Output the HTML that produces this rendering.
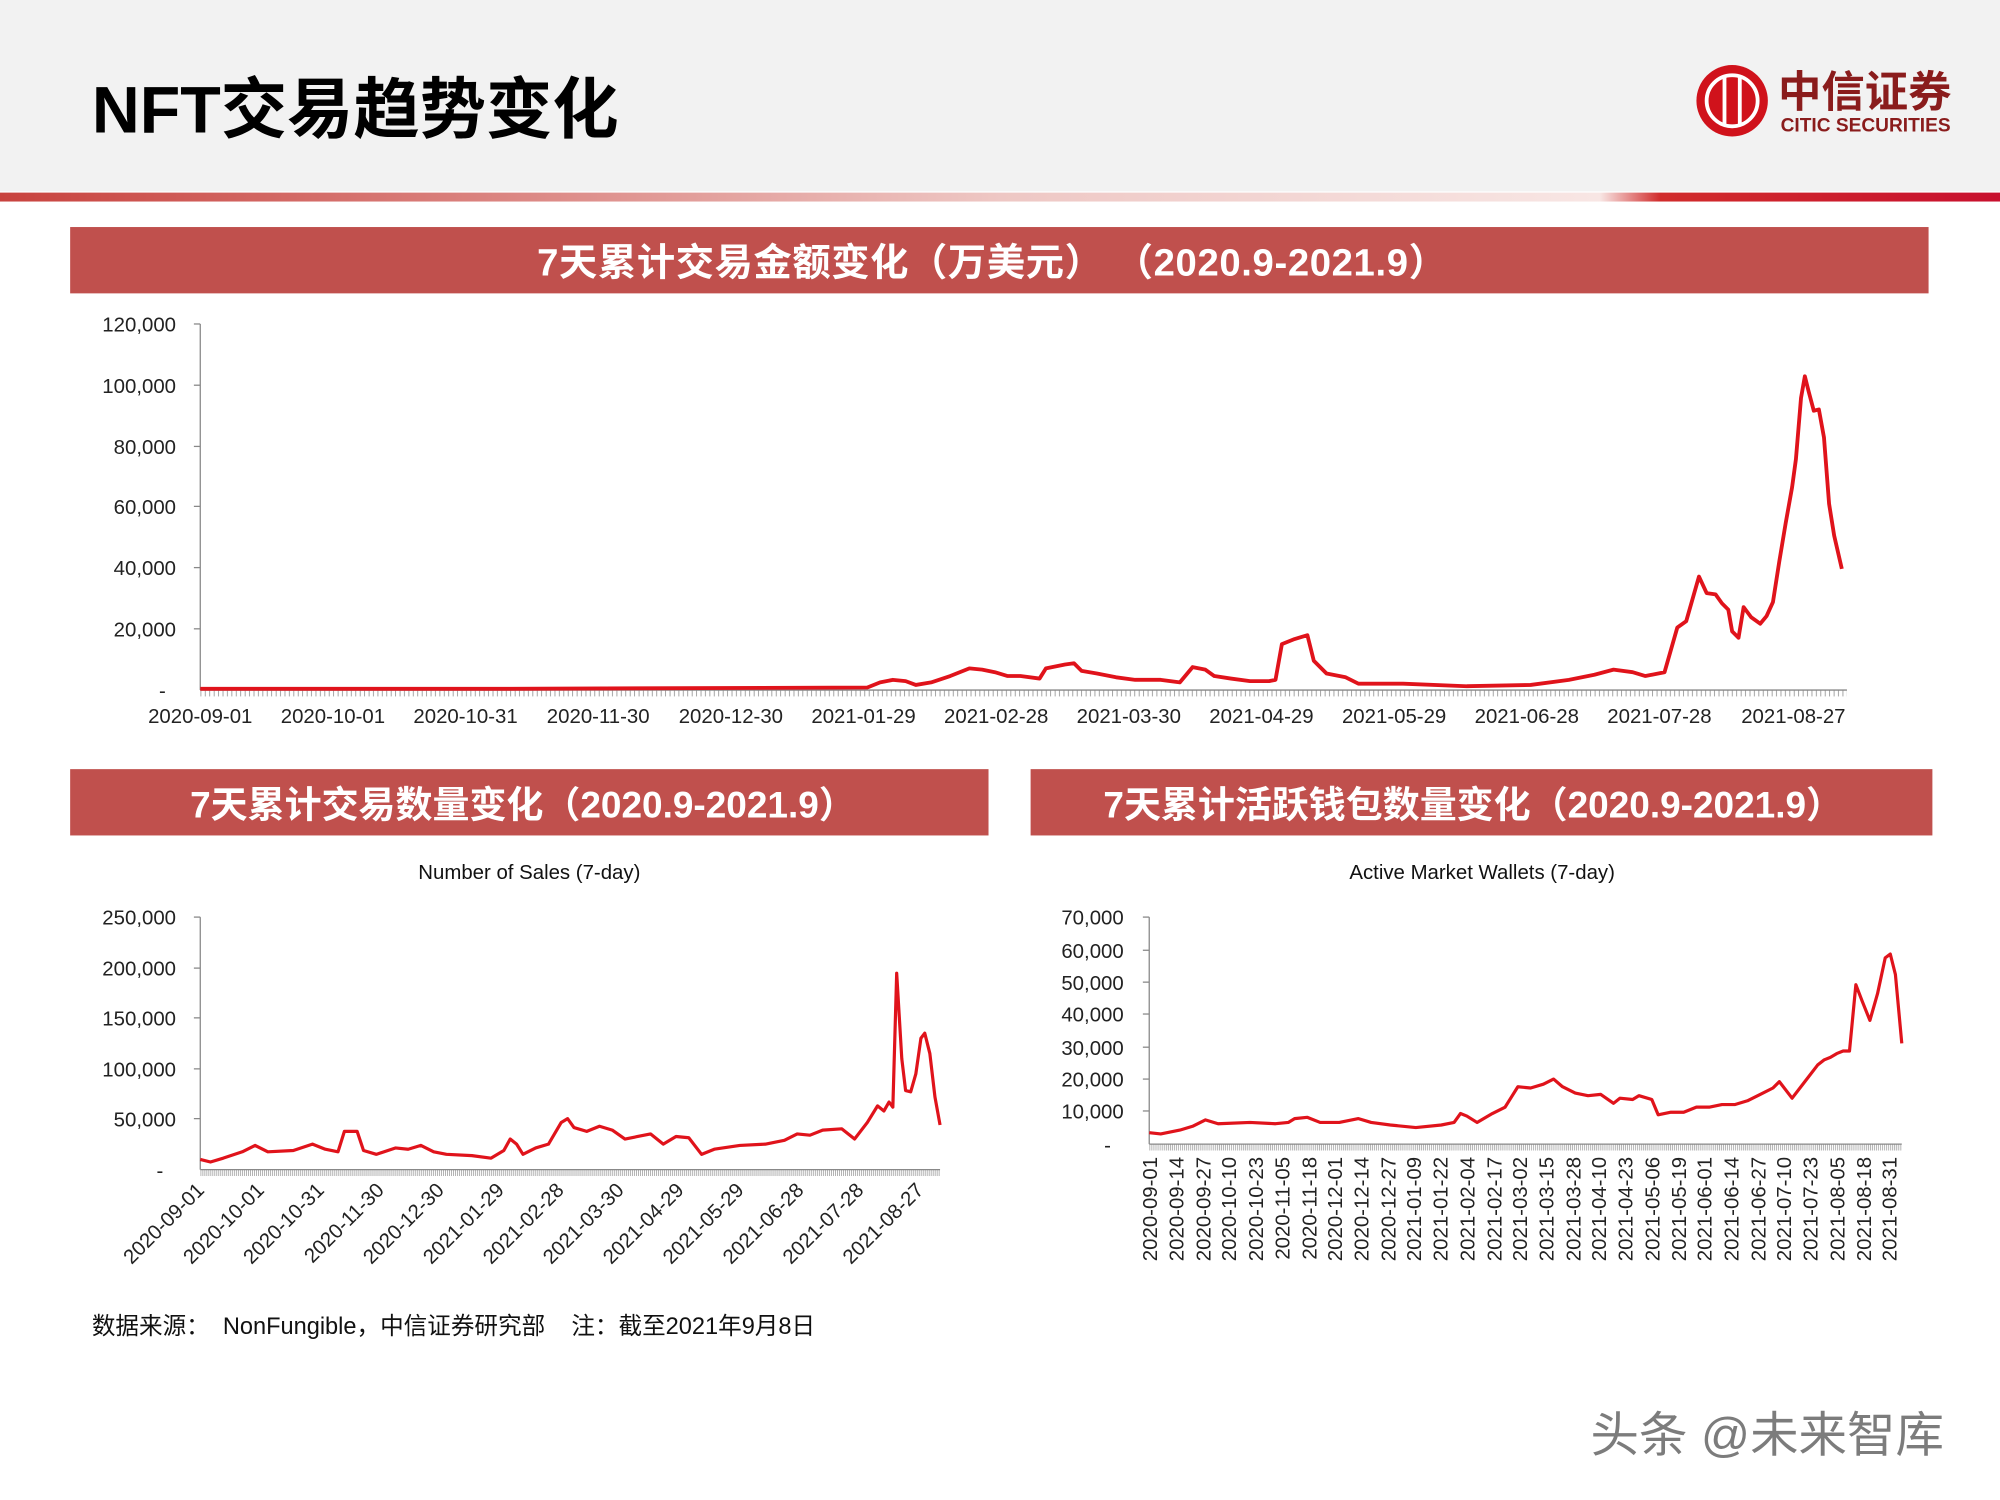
<!DOCTYPE html>
<html><head><meta charset="utf-8"><style>html,body{margin:0;padding:0;background:#fff}svg{display:block}text{font-family:"Liberation Sans","Noto Sans CJK SC",sans-serif}</style></head><body>
<svg width="2000" height="1500" viewBox="0 0 1568 1176" xmlns="http://www.w3.org/2000/svg">
<defs>
<linearGradient id="g" x1="0" x2="1"><stop offset="0" stop-color="#c8423e"/><stop offset="0.5" stop-color="#eec7c4"/><stop offset="0.8" stop-color="#f8e6e4"/><stop offset="0.83" stop-color="#d12c2c"/><stop offset="1" stop-color="#c8102e"/></linearGradient>
<pattern id="tk1" width="3.47" height="6" patternUnits="userSpaceOnUse" x="157"><line x1="0.5" y1="0" x2="0.5" y2="6" stroke="#888" stroke-width="0.6"/></pattern>
<pattern id="tk2" width="1.56" height="6" patternUnits="userSpaceOnUse" x="157"><line x1="0.5" y1="0" x2="0.5" y2="6" stroke="#888" stroke-width="0.5"/></pattern>
<pattern id="tk3" width="1.6" height="6" patternUnits="userSpaceOnUse" x="901"><line x1="0.5" y1="0" x2="0.5" y2="6" stroke="#888" stroke-width="0.5"/></pattern>
</defs>
<rect width="1568" height="150" fill="#f2f2f2"/>
<text x="72" y="104" font-size="52" font-weight="bold" fill="#000">NFT交易趋势变化</text>
<rect x="0" y="151" width="1568" height="7" fill="url(#g)"/>
<circle cx="1358" cy="79" r="28" fill="#d0121b"/>
<circle cx="1358" cy="79" r="20" fill="none" stroke="#fff" stroke-width="3"/>
<line x1="1352" y1="60" x2="1352" y2="98" stroke="#fff" stroke-width="3"/><line x1="1364" y1="60" x2="1364" y2="98" stroke="#fff" stroke-width="3"/>
<text x="1394" y="84" font-size="34" font-weight="bold" fill="#8a1c1c">中信证券</text>
<text x="1396" y="103" font-size="15" font-weight="bold" fill="#8a1c1c">CITIC SECURITIES</text>

<rect x="55" y="178" width="1457" height="52" fill="#c0504d"/>
<text x="778" y="216" font-size="30" font-weight="bold" fill="#fff" text-anchor="middle" letter-spacing="0.5">7天累计交易金额变化（万美元） （2020.9-2021.9）</text>
<g font-size="16" fill="#222" text-anchor="end">
<text x="138" y="260">120,000</text><text x="138" y="308">100,000</text><text x="138" y="356">80,000</text><text x="138" y="403">60,000</text><text x="138" y="451">40,000</text><text x="138" y="499">20,000</text><text x="130" y="547">-</text></g>
<g stroke="#888" stroke-width="1"><line x1="157" y1="254" x2="157" y2="541"/><line x1="152" y1="254" x2="157" y2="254"/><line x1="152" y1="302" x2="157" y2="302"/><line x1="152" y1="350" x2="157" y2="350"/><line x1="152" y1="397" x2="157" y2="397"/><line x1="152" y1="445" x2="157" y2="445"/><line x1="152" y1="493" x2="157" y2="493"/><line x1="157" y1="541" x2="1448" y2="541"/></g>
<rect x="157" y="541" width="1291" height="5" fill="url(#tk1)"/>
<g font-size="16" fill="#222" text-anchor="middle">
<text x="157" y="567">2020-09-01</text><text x="261" y="567">2020-10-01</text><text x="365" y="567">2020-10-31</text><text x="469" y="567">2020-11-30</text><text x="573" y="567">2020-12-30</text><text x="677" y="567">2021-01-29</text><text x="781" y="567">2021-02-28</text><text x="885" y="567">2021-03-30</text><text x="989" y="567">2021-04-29</text><text x="1093" y="567">2021-05-29</text><text x="1197" y="567">2021-06-28</text><text x="1301" y="567">2021-07-28</text><text x="1406" y="567">2021-08-27</text></g>
<polyline fill="none" stroke="#e0131b" stroke-width="3" stroke-linejoin="round" points="157,540 400,540 680,539 690,535 700,533 710,534 718,537 730,535 745,530 760,524 770,525 780,527 790,530 800,530 815,532 820,524 835,521 842,520 848,526 860,528 875,531 890,533 910,533 925,535 935,523 945,525 952,530 965,532 980,534 995,534 1000,533 1005,505 1015,501 1025,498 1030,518 1040,528 1055,531 1065,536 1100,536 1150,538 1200,537 1230,533 1250,529 1265,525 1280,527 1290,530 1305,527 1315,492 1322,487 1332,452 1338,465 1345,466 1350,473 1355,478 1358,495 1363,500 1367,476 1373,484 1380,489 1385,483 1390,472 1395,440 1400,410 1405,382 1408,360 1412,312 1415,295 1418,307 1422,322 1426,321 1430,343 1434,395 1438,420 1444,446"/>

<rect x="55" y="603" width="720" height="52" fill="#c0504d"/>
<text x="410" y="641" font-size="29" font-weight="bold" fill="#fff" text-anchor="middle">7天累计交易数量变化（2020.9-2021.9）</text>
<text x="415" y="689" font-size="16" fill="#111" text-anchor="middle">Number of Sales (7-day)</text>
<g font-size="16" fill="#222" text-anchor="end">
<text x="138" y="725">250,000</text><text x="138" y="765">200,000</text><text x="138" y="804">150,000</text><text x="138" y="844">100,000</text><text x="138" y="883">50,000</text><text x="128" y="923">-</text></g>
<g stroke="#888"><line x1="157" y1="719" x2="157" y2="917"/><line x1="157" y1="917" x2="737" y2="917"/>
<line x1="152" y1="719" x2="157" y2="719"/><line x1="152" y1="759" x2="157" y2="759"/><line x1="152" y1="798" x2="157" y2="798"/><line x1="152" y1="838" x2="157" y2="838"/><line x1="152" y1="877" x2="157" y2="877"/></g>
<rect x="157" y="917" width="580" height="5" fill="url(#tk2)"/>
<g font-size="16" fill="#222" text-anchor="end">
<text transform="translate(161,934) rotate(-45)">2020-09-01</text><text transform="translate(208,934) rotate(-45)">2020-10-01</text><text transform="translate(255,934) rotate(-45)">2020-10-31</text><text transform="translate(302,934) rotate(-45)">2020-11-30</text><text transform="translate(349,934) rotate(-45)">2020-12-30</text><text transform="translate(396,934) rotate(-45)">2021-01-29</text><text transform="translate(443,934) rotate(-45)">2021-02-28</text><text transform="translate(490,934) rotate(-45)">2021-03-30</text><text transform="translate(537,934) rotate(-45)">2021-04-29</text><text transform="translate(584,934) rotate(-45)">2021-05-29</text><text transform="translate(631,934) rotate(-45)">2021-06-28</text><text transform="translate(678,934) rotate(-45)">2021-07-28</text><text transform="translate(725,934) rotate(-45)">2021-08-27</text></g>
<polyline fill="none" stroke="#e0131b" stroke-width="2.5" stroke-linejoin="round" points="157,909 165,911 175,908 190,903 200,898 210,903 230,902 245,897 255,901 265,903 270,887 280,887 285,902 295,905 310,900 320,901 330,898 340,903 350,905 370,906 385,908 395,902 400,893 405,897 410,905 420,900 430,897 440,880 445,877 450,884 460,887 470,883 480,886 490,893 500,891 510,889 520,897 530,891 540,892 550,905 560,901 580,898 600,897 615,894 625,889 635,890 645,886 660,885 670,893 680,880 688,867 693,871 697,864 700,868 703,763 707,830 710,855 714,856 718,842 722,814 725,810 729,826 733,860 737,882"/>

<rect x="808" y="603" width="707" height="52" fill="#c0504d"/>
<text x="1155" y="641" font-size="29" font-weight="bold" fill="#fff" text-anchor="middle">7天累计活跃钱包数量变化（2020.9-2021.9）</text>
<text x="1162" y="689" font-size="16" fill="#111" text-anchor="middle">Active Market Wallets (7-day)</text>
<g font-size="16" fill="#222" text-anchor="end">
<text x="881" y="725">70,000</text><text x="881" y="751">60,000</text><text x="881" y="776">50,000</text><text x="881" y="801">40,000</text><text x="881" y="827">30,000</text><text x="881" y="852">20,000</text><text x="881" y="877">10,000</text><text x="871" y="903">-</text></g>
<g stroke="#888"><line x1="901" y1="719" x2="901" y2="897"/><line x1="901" y1="897" x2="1491" y2="897"/>
<line x1="896" y1="719" x2="901" y2="719"/><line x1="896" y1="745" x2="901" y2="745"/><line x1="896" y1="770" x2="901" y2="770"/><line x1="896" y1="795" x2="901" y2="795"/><line x1="896" y1="821" x2="901" y2="821"/><line x1="896" y1="846" x2="901" y2="846"/><line x1="896" y1="871" x2="901" y2="871"/></g>
<rect x="901" y="897" width="590" height="5" fill="url(#tk3)"/>
<g font-size="16" fill="#222" text-anchor="end">
<text transform="translate(907,907) rotate(-90)">2020-09-01</text><text transform="translate(928,907) rotate(-90)">2020-09-14</text><text transform="translate(949,907) rotate(-90)">2020-09-27</text><text transform="translate(969,907) rotate(-90)">2020-10-10</text><text transform="translate(990,907) rotate(-90)">2020-10-23</text><text transform="translate(1011,907) rotate(-90)">2020-11-05</text><text transform="translate(1032,907) rotate(-90)">2020-11-18</text><text transform="translate(1052,907) rotate(-90)">2020-12-01</text><text transform="translate(1073,907) rotate(-90)">2020-12-14</text><text transform="translate(1094,907) rotate(-90)">2020-12-27</text><text transform="translate(1114,907) rotate(-90)">2021-01-09</text><text transform="translate(1135,907) rotate(-90)">2021-01-22</text><text transform="translate(1156,907) rotate(-90)">2021-02-04</text><text transform="translate(1177,907) rotate(-90)">2021-02-17</text><text transform="translate(1197,907) rotate(-90)">2021-03-02</text><text transform="translate(1218,907) rotate(-90)">2021-03-15</text><text transform="translate(1239,907) rotate(-90)">2021-03-28</text><text transform="translate(1259,907) rotate(-90)">2021-04-10</text><text transform="translate(1280,907) rotate(-90)">2021-04-23</text><text transform="translate(1301,907) rotate(-90)">2021-05-06</text><text transform="translate(1322,907) rotate(-90)">2021-05-19</text><text transform="translate(1342,907) rotate(-90)">2021-06-01</text><text transform="translate(1363,907) rotate(-90)">2021-06-14</text><text transform="translate(1384,907) rotate(-90)">2021-06-27</text><text transform="translate(1404,907) rotate(-90)">2021-07-10</text><text transform="translate(1425,907) rotate(-90)">2021-07-23</text><text transform="translate(1446,907) rotate(-90)">2021-08-05</text><text transform="translate(1467,907) rotate(-90)">2021-08-18</text><text transform="translate(1487,907) rotate(-90)">2021-08-31</text></g>
<polyline fill="none" stroke="#e0131b" stroke-width="2.5" stroke-linejoin="round" points="901,888 910,889 925,886 935,883 945,878 955,881 980,880 1000,881 1010,880 1015,877 1025,876 1035,880 1050,880 1065,877 1075,880 1090,882 1110,884 1130,882 1140,880 1145,873 1150,875 1158,880 1170,873 1180,868 1185,860 1190,852 1200,853 1210,850 1218,846 1225,852 1235,857 1245,859 1255,858 1265,865 1270,861 1280,862 1285,859 1295,862 1300,874 1310,872 1320,872 1330,868 1340,868 1350,866 1360,866 1370,863 1380,858 1390,853 1395,848 1405,861 1415,848 1425,835 1430,831 1435,829 1440,826 1445,824 1450,824 1455,772 1460,785 1466,800 1472,779 1478,751 1482,748 1486,764 1491,818"/>

<text x="72" y="1046" font-size="18.5" fill="#111" xml:space="preserve">数据来源：  NonFungible，中信证券研究部    注：截至2021年9月8日</text>
<text x="1247" y="1138" font-size="38" fill="#666" opacity="0.85">头条 @未来智库</text>
</svg>
</body></html>
